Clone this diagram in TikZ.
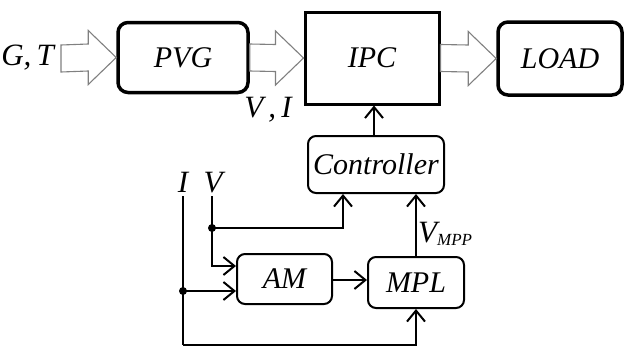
\documentclass[tikz,border=0pt]{standalone}
\usepackage{fontspec}
\setmainfont{Liberation Serif}
\usetikzlibrary{arrows.meta,calc}
\tikzset{
  thickbox/.style={draw,line width=3.5pt,rounded corners=10pt,minimum width=#1,inner sep=0pt,font=\fontsize{30}{32}\selectfont\itshape},
  thinbox/.style={draw,line width=2pt,rounded corners=8pt,minimum width=#1,inner sep=0pt,font=\fontsize{30}{32}\selectfont\itshape},
  lbl/.style={inner sep=0pt,font=\fontsize{31}{33}\selectfont\itshape},
  conn/.style={line width=2pt},
  arr/.style={conn,-{Straight Barb[length=11pt,width=18pt,line width=2pt]}},
  hollow/.style={draw=black!50,line width=1.1pt,fill=white,line join=miter},
  dot/.style={circle,fill=black,inner sep=0pt,minimum size=8pt}
}
\newcommand\hollowarr[2]{%
  \draw[hollow] ($(#1)+(0,-13.5)$) -- ($(#2)+(-28,-13.5)$) -- ($(#2)+(-28,-27)$) -- (#2)
    -- ($(#2)+(-28,27)$) -- ($(#2)+(-28,13.5)$) -- ($(#1)+(0,13.5)$) -- cycle;}
\begin{document}
\begin{tikzpicture}[x=1pt,y=-1pt]
\useasboundingbox (0,0) rectangle (624,346);
\node[thickbox=130pt,minimum height=70pt] (pvg) at (183,57.5) {PVG};
\node[thickbox=134pt,minimum height=92pt,rounded corners=0pt,line width=3pt] (ipc) at (372,58) {IPC};
\node[thickbox=124pt,minimum height=73pt] (load) at (560,58.5) {LOAD};
\node[thinbox=136pt,minimum height=57pt] (ctrl) at (376,164.5) {Controller};
\node[thinbox=95pt,minimum height=50pt] (am) at (284.5,279) {AM};
\node[thinbox=96pt,minimum height=51pt] (mpl) at (416,282.5) {MPL};
\node[lbl,anchor=east] (gt) at (54,58) {G,\,T};
\node[lbl] (vi) at (268,110) {V\,,\,I};
\node[lbl,anchor=base] (ilbl) at (183,192) {I};
\node[lbl,anchor=base] (vlbl) at (213,192) {V};
\node[lbl,anchor=base west] (vmpp) at (418,242) {V\textsubscript{\fontsize{17}{19}\selectfont MPP}};
\coordinate (gts) at (61,58.5);
\coordinate (Itop) at (183,196);
\coordinate (Ibot) at (183,345);
\coordinate (Vtop) at (212,196);
\coordinate (Vbend) at (212,266);
\coordinate (dI) at (183,291);
\coordinate (dV) at (212,228);
\coordinate (Vc) at (343,228);
% hollow arrows
\hollowarr{gts}{pvg.west}
\hollowarr{pvg.east}{ipc.west}
\hollowarr{ipc.east}{load.west}
% connectors
\draw[arr] (ctrl.north -| 374,0) -- (374,0 |- ipc.south);
\draw[conn] (Itop) -- (Ibot);
\draw[arr] (Ibot) -| (mpl.south);
\draw[arr] (dI) -- (dI -| am.west);
\draw[arr] (Vtop) -- (Vbend) -- (Vbend -| am.west);
\draw[arr] (dV) -- (Vc) -- (Vc |- ctrl.south);
\draw[arr] (am.east |- 0,280) -- (mpl.west |- 0,280);
\draw[arr] (mpl.north) -- (mpl.north |- ctrl.south);
\node[dot] (dotI) at (dI) {};
\node[dot] (dotV) at (dV) {};
\end{tikzpicture}
\end{document}
